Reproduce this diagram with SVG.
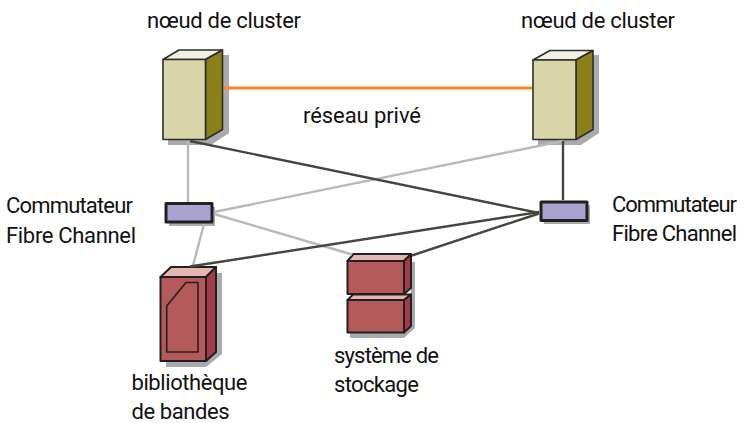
<svg xmlns="http://www.w3.org/2000/svg" width="744" height="423" viewBox="0 0 744 423">
<style>
text{font-family:Roboto,"Liberation Sans",sans-serif;font-size:22px;fill:#111}
.g{stroke:#b9b9bc;stroke-width:2.400;fill:none}
.d{stroke:#45463f;stroke-width:2.400;fill:none}
.o{stroke:#f58a2c;stroke-width:3;fill:none}
.s{fill:#a9aaad}
.e{stroke:#2f2d2d;stroke-width:1.600;stroke-linejoin:round}
.b{stroke:#231f20;stroke-width:3;stroke-linejoin:round}
.m{stroke-width:2}
.rf{fill:#b55a5a}.rt{fill:#e6b7b2}.rs{fill:#a53b47}
</style>
<rect width="744" height="423" fill="#fff"/>
<g id="node-cluster-1">
<path class="s" d="M168 145V139H205L222 129V55H229V133L211 145Z"/>
<path class="e" d="M163 59.500L179 50H222.500L205.500 59.500Z" fill="#f3f1e2"/>
<path class="e" d="M205.500 59.500L222.500 50V129.500L205.500 139.500Z" fill="#8b7f17"/>
<rect class="e" x="163" y="59.500" width="42.500" height="80" fill="#d8d5a9"/>
<text x="147" y="28" textLength="154">nœud de cluster</text>
</g>
<g id="node-cluster-2">
<path class="s" d="M538 145V139H576L593 129V55H599V133L581 145Z"/>
<path class="e" d="M533 60L550 50.500H593L576 60Z" fill="#f3f1e2"/>
<path class="e" d="M576 60L593 50.500V129.500L576 139.500Z" fill="#8b7f17"/>
<rect class="e" x="533" y="60" width="43" height="79.500" fill="#d8d5a9"/>
<text x="521" y="28" textLength="154">nœud de cluster</text>
</g>
<text id="label-private" x="303" y="122.500" textLength="118">réseau privé</text>
<g id="node-switch-1">
<rect class="s" x="169" y="207" width="46" height="19"/>
<rect class="b" x="166" y="203.500" width="46" height="18.500" fill="#a8a3d1"/>
<text x="6" y="212.500" textLength="127">Commutateur</text>
<text x="6" y="243" textLength="130">Fibre Channel</text>
</g>
<g id="node-switch-2">
<rect class="s" x="544" y="205" width="46" height="19"/>
<rect class="b" x="541" y="202" width="46" height="18.500" fill="#a8a3d1"/>
<text x="612" y="211.500" textLength="125">Commutateur</text>
<text x="612" y="241" textLength="125">Fibre Channel</text>
</g>
<g id="node-tape">
<path class="s" d="M166 367V361H206L216 352V273H222V354L206 367Z"/>
<path class="b rt m" d="M160.500 277L171 267H216L206 277Z"/>
<path class="b rs m" d="M206 277L216 267V352L206 361Z"/>
<rect class="b rf m" x="160.500" y="277" width="45.500" height="84"/>
<path class="b" style="stroke-width:1.600" fill="none" d="M166.700 306L186 282.500H198V352H166.700Z"/>
<text x="131.500" y="390" textLength="116">bibliothèque</text>
<text x="131.500" y="419" textLength="98">de bandes</text>
</g>
<g id="node-storage">
<path class="s" d="M350 338V333H404L411 326V262H415V328L404 338Z"/>
<path class="b rt m" d="M347.500 261L353.500 254H411L404 261Z"/>
<path class="b rs m" d="M404 261L411 254V288L404 294Z"/>
<rect class="b rf m" x="347.500" y="261" width="56.500" height="33"/>
<path class="b rt m" d="M347.500 300L353 294.500H411L404 300Z"/>
<path class="b rs m" d="M404 300L411 294.500V326L404 332.500Z"/>
<rect class="b rf m" x="347.500" y="300" width="56.500" height="32.500"/>
<text x="334" y="363" textLength="105">système de</text>
<text x="334" y="391.500" textLength="85">stockage</text>
</g>
<g id="connectors">
<path class="o" d="M223.500 88H532"/>
<path class="g" d="M188 141V202"/>
<path class="g" d="M563 141L214 212"/>
<path class="g" d="M214 214L352 254.500"/>
<path class="g" d="M204 224L193 265.500"/>
<path class="d" d="M190 141L539 213"/>
<path class="d" d="M563 141V200"/>
<path class="d" d="M190 266.500L539 212"/>
<path class="d" d="M539 213.500L412 255.500"/>
</g>
</svg>
